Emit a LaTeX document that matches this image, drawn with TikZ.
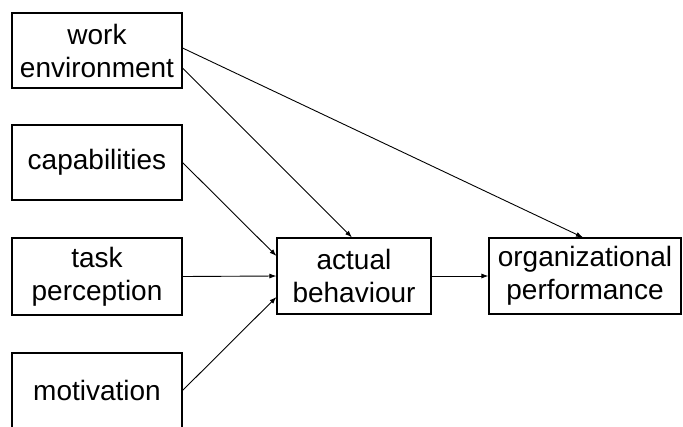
\documentclass[tikz,border=0pt]{standalone}
\usepackage{fontspec}
\setmainfont{Liberation Sans}
\usetikzlibrary{arrows.meta}
\begin{document}
\begin{tikzpicture}[x=1pt,y=-1pt,
  box/.style={draw=black,line width=1.1pt,align=center,inner sep=0pt,
    font=\fontsize{28}{33}\selectfont,text=black},
  conn/.style={draw=black,line width=0.9pt,-{Latex[length=7pt,width=5pt]}}]
\useasboundingbox (0,0) rectangle (683,426);
\clip (0,0) rectangle (683,426);
\fill[white] (0,0) rectangle (683,426);
\node[box,minimum width=170pt,minimum height=75pt] (we) at (97,50.5) {work\\environment};
\node[box,minimum width=170pt,minimum height=75pt] (cap) at (97,162.5) {capabilities};
\node[box,minimum width=170pt,minimum height=77pt] (tp) at (97,276.5) {task\\perception};
\node[box,minimum width=170pt,minimum height=75pt] (mot) at (97,390.5) {motivation};
\node[box,minimum width=154pt,minimum height=76pt] (ab) at (354,276) {actual\\behaviour};
\node[box,minimum width=192pt,minimum height=76pt] (op) at (585,276) {organizational\\performance};
\draw[conn] ([yshift=2.5pt]we.east) -- ([xshift=-2pt]op.north);
\draw[conn] ([yshift=-17.5pt]we.east) -- ([xshift=-2pt]ab.north);
\draw[conn] (cap.east) -- ([yshift=20pt]ab.west);
\draw[conn] (tp.east) -- (ab.west);
\draw[conn] (mot.east) -- ([yshift=-21pt]ab.west);
\draw[conn] (ab.east) -- (op.west);
\end{tikzpicture}
\end{document}
